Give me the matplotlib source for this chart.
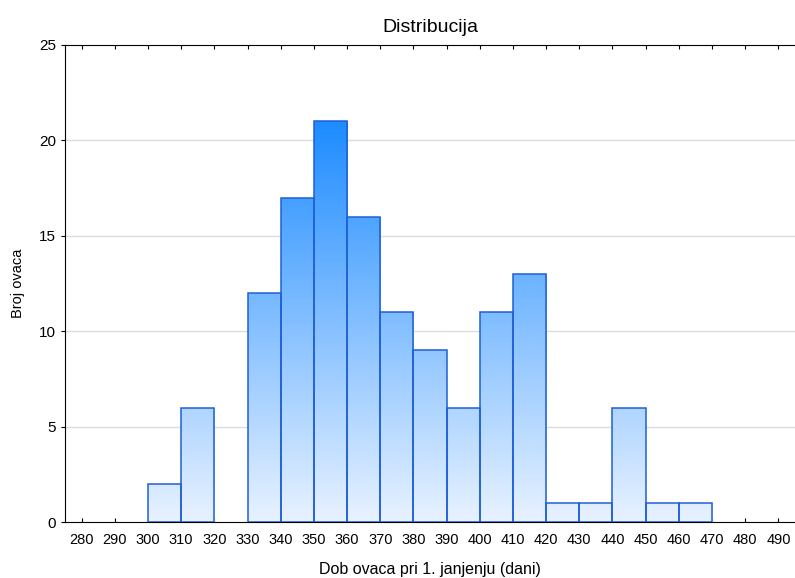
import numpy as np
import matplotlib.pyplot as plt
from matplotlib.colors import LinearSegmentedColormap

plt.rcParams['font.family'] = ['Liberation Sans', 'DejaVu Sans']

bin_edges = list(range(300, 480, 10))
counts = [2, 6, 0, 12, 17, 21, 16, 11, 9, 6, 11, 13, 1, 1, 6, 1, 1]
x_ticks = list(range(280, 500, 10))
y_ticks = [0, 5, 10, 15, 20, 25]

cmap = LinearSegmentedColormap.from_list('blues', ['#e8f2ff', '#1e8cff'])

fig = plt.figure(figsize=(7.95, 5.78), dpi=100)
ax = fig.add_axes([65/795, 1 - 522/578, 730/795, (522-45)/578])

ax.set_xlim(275, 495)
ax.set_ylim(0, 25)

for y in y_ticks[1:-1]:
    ax.axhline(y, color='#dddddd', lw=1, zorder=0)

# skip empty bins so no edge is drawn along the axis
lefts = [x for x, c in zip(bin_edges[:-1], counts) if c > 0]
heights = [c for c in counts if c > 0]
bars = ax.bar(lefts, heights, width=10, align='edge', facecolor='none',
              edgecolor='#1f5fd6', linewidth=1.1, zorder=3)

for bar, h in zip(bars, heights):
    x0 = bar.get_x()
    grad = np.linspace(0, h, 200).reshape(-1, 1)
    im = ax.imshow(grad, cmap=cmap, vmin=0, vmax=21, origin='lower',
                   extent=(x0, x0 + 10, 0, h), aspect='auto', zorder=2)
    im.set_clip_path(bar)

ax.set_aspect('auto')
ax.set_xticks(x_ticks)
ax.set_yticks(y_ticks)
ax.tick_params(axis='x', direction='in', top=True, length=3, labelsize=10.5, pad=8)
ax.tick_params(axis='y', direction='out', length=3, labelsize=11)
ax.spines['right'].set_visible(False)

ax.set_title('Distribucija', fontsize=14, pad=9)
ax.set_xlabel('Dob ovaca pri 1. janjenju (dani)', fontsize=11.5, labelpad=11)
ax.set_ylabel('Broj ovaca', fontsize=10.5, labelpad=10)

fig.savefig('out.png', dpi=100)
